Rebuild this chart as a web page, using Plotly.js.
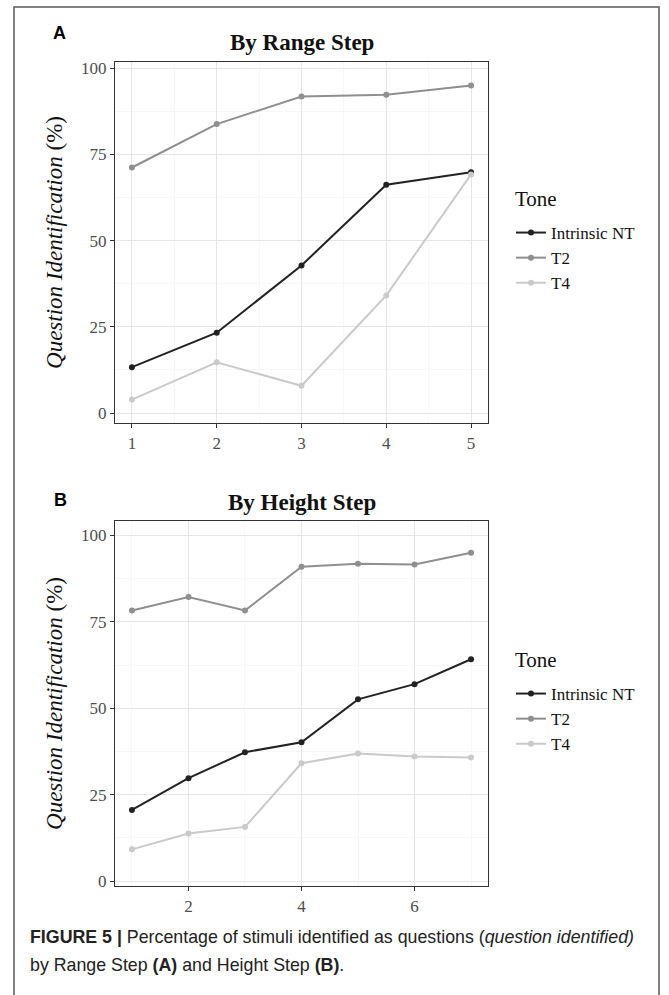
<!DOCTYPE html>
<html>
<head>
<meta charset="utf-8">
<script src="https://cdn.plot.ly/plotly-3.0.1.min.js"></script>
<style>html,body{margin:0;padding:0;background:#fff;}#chart{width:669px;height:995px;}</style>
</head>
<body>
<div id="chart"></div>
<script>
// Panel A: By Range Step
const stepsA = [1, 2, 3, 4, 5];
const intrinsicA = [13.3, 23.3, 42.8, 66.2, 69.8];
const t2A = [71.2, 83.8, 91.8, 92.3, 95.0];
const t4A = [3.9, 14.7, 7.9, 34.1, 69.2];

// Panel B: By Height Step
const stepsB = [1, 2, 3, 4, 5, 6, 7];
const intrinsicB = [20.6, 29.8, 37.3, 40.2, 52.6, 57.0, 64.2];
const t2B = [78.3, 82.2, 78.3, 91.0, 91.8, 91.6, 95.0];
const t4B = [9.2, 13.8, 15.7, 34.1, 36.9, 36.1, 35.8];

const toneNames = ["Intrinsic NT", "T2", "T4"];
const toneColors = ["#222222", "#8f8f8f", "#cacaca"];
const yTicks = [0, 25, 50, 75, 100];
const xTicksA = [1, 2, 3, 4, 5];
const xTicksB = [2, 4, 6];

const W = 669, H = 995;
const px = v => v / W;
const py = v => 1 - v / H;

function mk(x, y, i, xa, ya, lg) {
  return {
    x: x, y: y, name: toneNames[i], type: 'scatter', mode: 'lines+markers',
    xaxis: xa, yaxis: ya, legend: lg,
    line: {color: toneColors[i], width: 2},
    marker: {color: toneColors[i], size: 6},
    hoverinfo: 'skip'
  };
}

const data = [
  mk(stepsA, intrinsicA, 0, 'x', 'y', 'legend'),
  mk(stepsA, t2A, 1, 'x', 'y', 'legend'),
  mk(stepsA, t4A, 2, 'x', 'y', 'legend'),
  mk(stepsB, intrinsicB, 0, 'x2', 'y2', 'legend2'),
  mk(stepsB, t2B, 1, 'x2', 'y2', 'legend2'),
  mk(stepsB, t4B, 2, 'x2', 'y2', 'legend2')
];

const gridMajor = '#e6e6e6', gridMinor = '#f1f1f1', lineCol = '#333333';
function axisBase() {
  return {
    showgrid: true, gridcolor: gridMajor, gridwidth: 1,
    showline: true, mirror: true, linecolor: lineCol, linewidth: 1.2,
    ticks: 'outside', ticklen: 4, tickcolor: lineCol, tickwidth: 1,
    tickfont: {family: 'Liberation Serif', size: 17, color: '#4d4d4d'},
    zeroline: false, fixedrange: true
  };
}
const xDom = [px(115), px(488)];
const yTitle = {
  text: '<i>Question Identification</i> (%)',
  font: {family: 'Liberation Serif', size: 23, color: '#111111'},
  standoff: 11
};
const legendFont = {family: 'Liberation Serif', size: 17, color: '#111111'};
const toneFont = {family: 'Liberation Serif', size: 21, color: '#111111'};

const layout = {
  width: W, height: H,
  margin: {l: 0, r: 0, t: 0, b: 0},
  paper_bgcolor: '#ffffff', plot_bgcolor: '#ffffff',
  font: {family: 'Liberation Serif', color: '#111111'},
  showlegend: true,
  xaxis: Object.assign(axisBase(), {
    domain: xDom, anchor: 'y', range: [0.8, 5.2],
    tickmode: 'array', tickvals: xTicksA, ticktext: xTicksA.map(String),
    minor: {tickmode: 'linear', tick0: 0.5, dtick: 0.5, showgrid: true, gridcolor: gridMinor, gridwidth: 0.6, ticks: ''}
  }),
  yaxis: Object.assign(axisBase(), {
    domain: [py(423), py(62)], anchor: 'x', range: [-2.9, 101.8],
    tickmode: 'array', tickvals: yTicks, ticktext: yTicks.map(String),
    minor: {tickmode: 'linear', tick0: 12.5, dtick: 12.5, showgrid: true, gridcolor: gridMinor, gridwidth: 0.6, ticks: ''},
    title: yTitle
  }),
  xaxis2: Object.assign(axisBase(), {
    domain: xDom, anchor: 'y2', range: [0.7, 7.3],
    tickmode: 'array', tickvals: xTicksB, ticktext: xTicksB.map(String),
    minor: {tickmode: 'linear', tick0: 1, dtick: 1, showgrid: true, gridcolor: gridMinor, gridwidth: 0.6, ticks: ''}
  }),
  yaxis2: Object.assign(axisBase(), {
    domain: [py(886), py(521)], anchor: 'x2', range: [-1.4, 104.2],
    tickmode: 'array', tickvals: yTicks, ticktext: yTicks.map(String),
    minor: {tickmode: 'linear', tick0: 12.5, dtick: 12.5, showgrid: true, gridcolor: gridMinor, gridwidth: 0.6, ticks: ''},
    title: yTitle
  }),
  legend: {
    font: legendFont,
    x: px(511), y: py(215), xanchor: 'left', yanchor: 'top',
    bgcolor: 'rgba(0,0,0,0)', borderwidth: 0
  },
  legend2: {
    font: legendFont,
    x: px(511), y: py(676), xanchor: 'left', yanchor: 'top',
    bgcolor: 'rgba(0,0,0,0)', borderwidth: 0
  },
  shapes: [
    {type: 'rect', xref: 'paper', yref: 'paper', x0: px(14), x1: px(659), y0: -0.02, y1: py(7),
     line: {color: '#5a5a5a', width: 1.5}, fillcolor: 'rgba(0,0,0,0)', layer: 'below'}
  ],
  annotations: [
    {text: '<b>A</b>', x: px(59), y: py(33), xref: 'paper', yref: 'paper', showarrow: false,
     font: {family: 'Liberation Sans', size: 18, color: '#000'}, xanchor: 'center', yanchor: 'middle'},
    {text: '<b>By Range Step</b>', x: px(301.5), y: py(42), xref: 'paper', yref: 'paper', showarrow: false,
     font: {family: 'Liberation Serif', size: 23, color: '#111111'}, xanchor: 'center', yanchor: 'middle'},
    {text: 'Tone', x: px(513), y: py(199), xref: 'paper', yref: 'paper', showarrow: false,
     font: toneFont, xanchor: 'left', yanchor: 'middle'},
    {text: '<b>B</b>', x: px(60), y: py(500), xref: 'paper', yref: 'paper', showarrow: false,
     font: {family: 'Liberation Sans', size: 18, color: '#000'}, xanchor: 'center', yanchor: 'middle'},
    {text: '<b>By Height Step</b>', x: px(301.5), y: py(502), xref: 'paper', yref: 'paper', showarrow: false,
     font: {family: 'Liberation Serif', size: 23, color: '#111111'}, xanchor: 'center', yanchor: 'middle'},
    {text: 'Tone', x: px(513), y: py(660), xref: 'paper', yref: 'paper', showarrow: false,
     font: toneFont, xanchor: 'left', yanchor: 'middle'},
    {text: '<b>FIGURE 5 |</b> Percentage of stimuli identified as questions (<i>question identified)</i>',
     x: px(28), y: py(937), xref: 'paper', yref: 'paper', showarrow: false,
     font: {family: 'Liberation Sans', size: 17.8, color: '#222'}, xanchor: 'left', yanchor: 'middle', align: 'left'},
    {text: 'by Range Step <b>(A)</b> and Height Step <b>(B)</b>.',
     x: px(28), y: py(965), xref: 'paper', yref: 'paper', showarrow: false,
     font: {family: 'Liberation Sans', size: 17.8, color: '#222'}, xanchor: 'left', yanchor: 'middle', align: 'left'}
  ]
};

Plotly.newPlot('chart', data, layout, {displayModeBar: false, staticPlot: true});
</script>
</body>
</html>
